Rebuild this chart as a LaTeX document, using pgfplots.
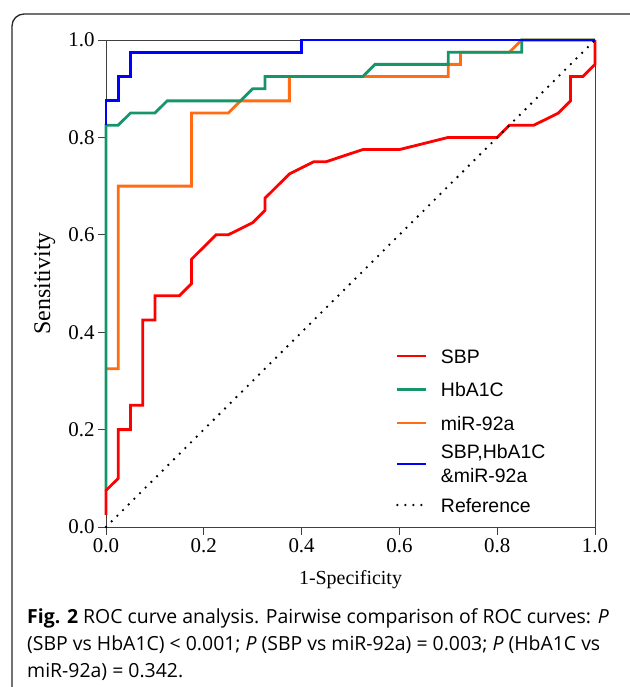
\documentclass[border=0pt]{standalone}
\usepackage{fontspec}
\setmainfont{Liberation Serif}
\newfontfamily\legfont{Liberation Sans}
\newfontfamily\capfont{Open Sans}
\usepackage{pgfplots}
\pgfplotsset{compat=1.18}
\definecolor{rocred}{RGB}{255,0,0}
\definecolor{rocgreen}{RGB}{22,150,104}
\definecolor{rocorange}{RGB}{255,108,20}
\definecolor{rocblue}{RGB}{0,0,255}

\begin{document}
\begin{tikzpicture}[x=1bp,y=1bp]
\useasboundingbox (0,0) rectangle (630,-687);
\draw[line width=1.3bp, black!85, rounded corners=12bp] (12,-14) rectangle (642,-700);

\begin{axis}[
    at={(106bp,-527bp)}, anchor=south west,
    width=489bp, height=487bp, scale only axis,
    xmin=0, xmax=1, ymin=0, ymax=1,
    xtick={0,0.2,0.4,0.6,0.8,1}, ytick={0,0.2,0.4,0.6,0.8,1},
    /pgf/number format/.cd, fixed, fixed zerofill, precision=1, assume math mode=true,
    /pgfplots/.cd,
    tick label style={font=\fontsize{21}{21}\selectfont},
    tick pos=left, tick align=outside, major tick length=8bp,
    axis line style={black!75, line width=1bp},
    tick style={black!75, line width=1bp},
    clip=false,
    xlabel={1-Specificity}, ylabel={Sensitivity},
    every axis x label/.style={at={(axis description cs:0.5,-0.109)}, anchor=center,
        font=\fontsize{20}{20}\selectfont},
    every axis y label/.style={at={(axis description cs:-0.125,0.5)}, anchor=center,
        rotate=90, font=\fontsize{24}{24}\selectfont},
    legend style={at={(axis cs:0.593,0.3655)}, anchor=north west, draw=none, fill=none,
        inner sep=0pt, outer sep=0pt,
        font=\legfont\fontsize{19.5}{24}\selectfont, row sep=19.5bp, column sep=11.2bp,
        nodes={inner ysep=0pt, text height=14bp, text depth=0bp}},
    legend cell align=left,
    legend image code/.code={\draw[#1] (0bp,0bp) -- (29bp,0bp);},
    every axis plot/.append style={line width=2.8bp},
]
\addlegendimage{rocred, line width=2.8bp}
\addlegendentry{SBP}
\addlegendimage{rocgreen, line width=2.8bp}
\addlegendentry{HbA1C}
\addlegendimage{rocorange, line width=2.8bp}
\addlegendentry{miR-92a}
\addlegendimage{rocblue, line width=2.8bp}
\addlegendentry[text height=21.25bp, text depth=7.75bp]{\begin{tabular}{@{}l@{}}SBP,HbA1C\\\&miR-92a\end{tabular}}
\addlegendimage{black, line width=2.6bp, line cap=round, dash pattern=on 0bp off 8bp}
\addlegendentry{Reference}

% miR-92a
\addplot[rocorange, forget plot] coordinates {
(0,0.325)(0.025,0.325)(0.025,0.7)(0.175,0.7)(0.175,0.85)(0.25,0.85)(0.275,0.875)
(0.375,0.875)(0.375,0.925)(0.7,0.925)(0.7,0.95)(0.725,0.95)(0.725,0.975)
(0.825,0.975)(0.85,1)(1,1)};
% HbA1C
\addplot[rocgreen, forget plot] coordinates {
(0,0.075)(0,0.825)(0.025,0.825)(0.05,0.85)(0.1,0.85)(0.125,0.875)(0.275,0.875)
(0.3,0.9)(0.325,0.9)(0.325,0.925)(0.525,0.925)(0.55,0.95)(0.7,0.95)(0.7,0.975)
(0.85,0.975)(0.85,1)(1,1)};
% SBP
\addplot[rocred, forget plot] coordinates {
(0,0.025)(0,0.075)(0.025,0.1)(0.025,0.2)(0.05,0.2)(0.05,0.25)(0.075,0.25)
(0.075,0.425)(0.1,0.425)(0.1,0.475)(0.15,0.475)(0.175,0.5)(0.175,0.55)
(0.225,0.6)(0.25,0.6)(0.3,0.625)(0.325,0.65)(0.325,0.675)(0.375,0.725)
(0.425,0.75)(0.45,0.75)(0.525,0.775)(0.6,0.775)(0.7,0.8)(0.8,0.8)(0.825,0.825)
(0.875,0.825)(0.925,0.85)(0.95,0.875)(0.95,0.925)(0.975,0.925)(1,0.95)(1,1)};
% combined
\addplot[rocblue, forget plot] coordinates {
(0,0.825)(0,0.875)(0.025,0.875)(0.025,0.925)(0.05,0.925)(0.05,0.975)(0.4,0.975)
(0.4,1)(1,1)};
% reference
\addplot[black, line width=2.6bp, line cap=round, dash pattern=on 0bp off 8bp, forget plot]
    coordinates {(0,0)(1,1)};
\end{axis}

\node[anchor=base west, inner sep=0, font=\capfont\fontsize{19.5}{27}\selectfont] at (27,-623)
  {\textbf{Fig. 2} ROC curve analysis. Pairwise comparison of ROC curves: \textit{P}};
\node[anchor=base west, inner sep=0, font=\capfont\fontsize{19.5}{27}\selectfont] at (27,-650)
  {(SBP vs HbA1C) < 0.001; \textit{P} (SBP vs miR-92a) = 0.003; \textit{P} (HbA1C vs};
\node[anchor=base west, inner sep=0, font=\capfont\fontsize{19.5}{27}\selectfont] at (27,-677)
  {miR-92a) = 0.342.};
\end{tikzpicture}
\end{document}
